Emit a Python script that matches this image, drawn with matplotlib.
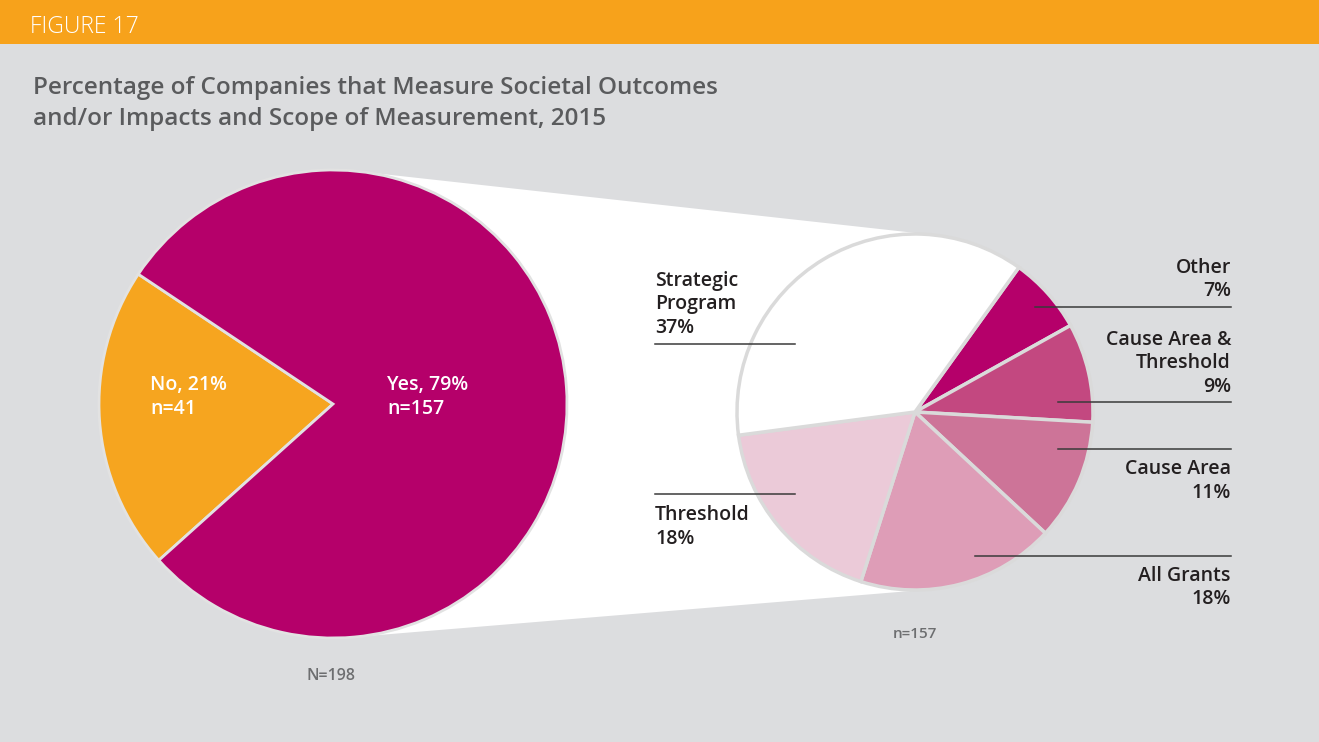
import numpy as np
import matplotlib
matplotlib.use("Agg")
import matplotlib.pyplot as plt
from matplotlib.patches import Rectangle, Polygon

plt.rcParams['font.family'] = ['Open Sans', 'DejaVu Sans']

# overall split
main_labels = ['No', 'Yes']
main_pct = [21, 79]
main_n = [41, 157]
main_colors = ['#F6A51F', '#B5006A']

# scope of measurement among the "yes" companies
scope_labels = ['Other', 'Cause Area &\nThreshold', 'Cause Area', 'All Grants',
                'Threshold', 'Strategic\nProgram']
scope_pct = [7, 9, 11, 18, 18, 37]
scope_colors = ['#B5006A', '#C34880', '#CD7498', '#DE9DB7', '#EBCAD8', '#FFFFFF']

W, H = 1319, 742
BG = '#DCDDDF'
ORANGE = '#F7A21B'
TXT = '#231F20'
STEP = 23.5

fig = plt.figure(figsize=(W / 100, H / 100), dpi=100, facecolor=BG)
ax = fig.add_axes([0, 0, 1, 1])


# pixel-like coordinates, y measured upward
def py(y):
    return H - y


def stacked(x, y0, lines, ha, **kw):
    # one text per line so the baselines sit on a fixed grid
    for i, s in enumerate(lines):
        ax.text(x, py(y0 + i * STEP), s, ha=ha, va='baseline', zorder=5, **kw)


c1, r1 = np.array([333.0, py(404)]), 234.0
c2, r2 = np.array([915.0, py(412)]), 178.0

# white funnel between the two pies (outer tangents)
d = c2 - c1
dist = np.hypot(*d)
theta = np.arctan2(d[1], d[0])
alpha = np.arccos((r1 - r2) / dist)
pts = []
for s in (1, -1):
    n = np.array([np.cos(theta + s * alpha), np.sin(theta + s * alpha)])
    pts.append((c1 + r1 * n, c2 + r2 * n))
funnel = [pts[0][0], pts[0][1], pts[1][1], pts[1][0]]
ax.add_patch(Polygon(funnel, closed=True, facecolor='white', edgecolor='none', zorder=0))

# left pie
wedges, _ = ax.pie(main_pct, colors=main_colors, startangle=146.3, counterclock=True,
                   center=tuple(c1), radius=r1,
                   wedgeprops=dict(edgecolor='#E2E2E2', linewidth=2))
for w in wedges:
    w.set_zorder(2)

# right pie
wedges2, _ = ax.pie(scope_pct, colors=scope_colors, startangle=54.3, counterclock=False,
                    center=tuple(c2), radius=r2,
                    wedgeprops=dict(edgecolor='#DADADA', linewidth=2.5))
for w in wedges2:
    w.set_zorder(2)

ax.set_xlim(0, W)
ax.set_ylim(0, H)
ax.set_aspect('auto')
ax.axis('off')

# header band
ax.add_patch(Rectangle((0, py(44)), W, 44, facecolor=ORANGE, edgecolor='none', zorder=3))
ax.text(30, py(33), 'FIGURE 17', color='white', fontsize=16.5, fontweight='light',
        va='baseline', ha='left', zorder=4)

ax.text(33, py(94), 'Percentage of Companies that Measure Societal Outcomes',
        color='#5A5B5D', fontsize=17.5, fontweight='semibold', va='baseline', ha='left')
ax.text(33, py(125), 'and/or Impacts and Scope of Measurement, 2015',
        color='#5A5B5D', fontsize=17.5, fontweight='semibold', va='baseline', ha='left')

# labels inside the left pie
lab_x = [150, 387]
for i, x in enumerate(lab_x):
    stacked(x, 390, [f'{main_labels[i]}, {main_pct[i]}%', f'n={main_n[i]}'], 'left',
            color='white', fontsize=14, fontweight='semibold')

ax.text(331, py(680), 'N=198', color='#6D6E70', fontsize=11.5, fontweight='semibold',
        ha='center', va='baseline')
ax.text(915, py(638), 'n=157', color='#6D6E70', fontsize=11, fontweight='semibold',
        ha='center', va='baseline')

# scope labels with leader lines: (text x, first baseline y, align, line x0, line x1, line y)
scope_layout = {
    'Strategic\nProgram': (655, 286, 'left', 655, 795, 344),
    'Threshold': (655, 520, 'left', 655, 795, 494),
    'Other': (1231, 273, 'right', 1035, 1231, 307),
    'Cause Area &\nThreshold': (1231, 345, 'right', 1058, 1231, 402),
    'Cause Area': (1231, 474, 'right', 1058, 1231, 449),
    'All Grants': (1231, 581, 'right', 975, 1231, 556),
}
for lab, pct in zip(scope_labels, scope_pct):
    tx, ty, ha, lx0, lx1, ly = scope_layout[lab]
    stacked(tx, ty, lab.split('\n') + [f'{pct}%'], ha,
            color=TXT, fontsize=14, fontweight='semibold')
    ax.plot([lx0, lx1], [py(ly), py(ly)], color='#3A3A3A', linewidth=1.1, zorder=5)

fig.savefig('out.png', dpi=100, facecolor=BG)
